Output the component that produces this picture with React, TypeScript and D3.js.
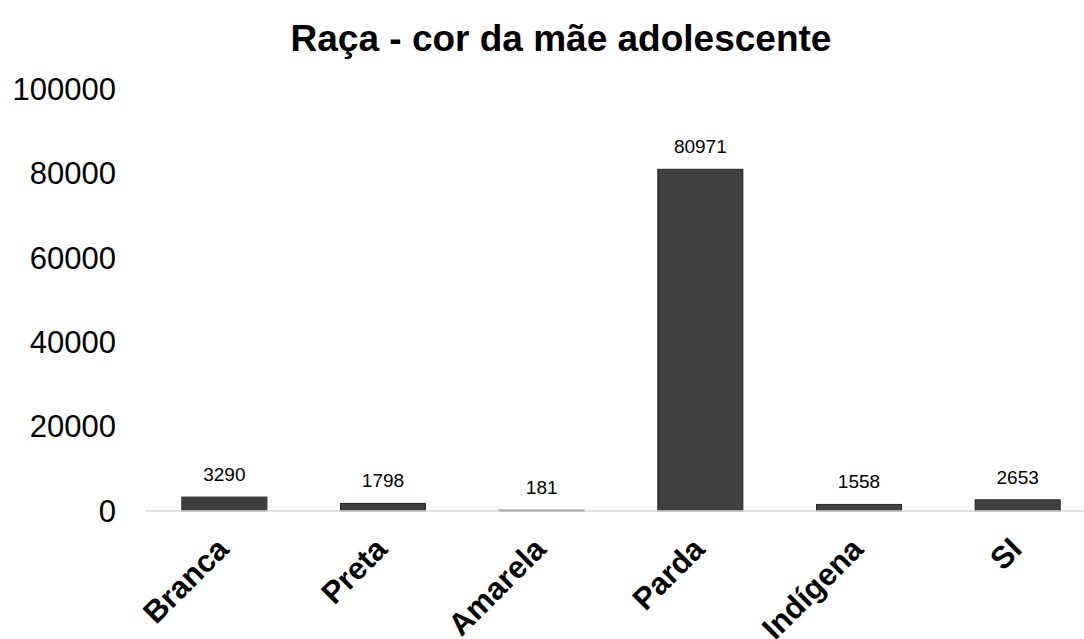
import React from "react";
import * as d3 from "d3";

const categories = ["Branca", "Preta", "Amarela", "Parda", "Indígena", "SI"];
const values = [3290, 1798, 181, 80971, 1558, 2653];
const yTicks = [0, 20000, 40000, 60000, 80000, 100000];
const title = "Raça - cor da mãe adolescente";

const W = 1084;
const H = 639;
const FONT = "'Liberation Sans', Arial, sans-serif";

export default function App() {
  const x = d3.scaleBand<string>().domain(categories).range([145, 1097]).paddingInner(0.464).paddingOuter(0.232);
  const y = d3.scaleLinear().domain([0, 100000]).range([511, 89]);
  return (
    <svg width={W} height={H} style={{ position: "absolute", left: 0, top: 0, background: "#fff" }} fontFamily={FONT}>
      <rect x={0} y={0} width={W} height={H} fill="#fff" />
      <text x={561} y={51} textAnchor="middle" fontSize={37} fontWeight="bold" fill="#000">{title}</text>
      {yTicks.map((t) => (
        <text key={t} x={116} y={y(t)} dy="0.35em" textAnchor="end" fontSize={31} fill="#000">{t}</text>
      ))}
      {categories.map((c, i) => (
        <g key={c}>
          <rect x={x(c)!} y={y(values[i])} width={x.bandwidth()} height={y(0) - y(values[i])} fill="#404040" stroke="#262626" strokeWidth={1} />
          <text x={x(c)! + x.bandwidth() / 2} y={y(values[i]) - 16} textAnchor="middle" fontSize={19} fill="#000">{values[i]}</text>
          <text transform={`translate(${x(c)! + x.bandwidth() / 2 + 6},${y(0) + 40}) rotate(-45)`} textAnchor="end" fontSize={31} fontWeight="bold" fill="#000">{c}</text>
        </g>
      ))}
      <line x1={145} x2={1097} y1={y(0)} y2={y(0)} stroke="#d9d9d9" strokeWidth={1.5} />
    </svg>
  );
}
